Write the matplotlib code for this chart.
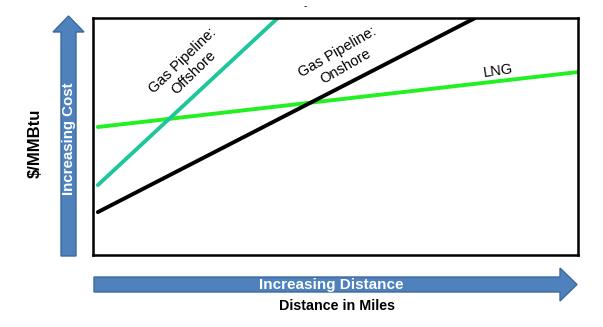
import matplotlib.pyplot as plt
from matplotlib.patches import Polygon

# cost curves, in chart units (distance 0-100, cost 0-100)
lng_x = [1, 100]
lng_y = [54, 77.2]
offshore_x = [1, 38.1]
offshore_y = [29.5, 100]
onshore_x = [1, 78.8]
onshore_y = [18.1, 100]

labels = ["Gas Pipeline:\nOffshore", "Gas Pipeline:\nOnshore", "LNG"]

ARROW_FACE = "#4F81BD"
ARROW_EDGE = "#3C6A9E"

plt.rcParams['font.family'] = ['Liberation Sans', 'DejaVu Sans']

fig = plt.figure(figsize=(6.03, 3.27), dpi=100)

# background axes in pixel coordinates for the arrows and outer labels
bg = fig.add_axes([0, 0, 1, 1])
bg.set_xlim(0, 603)
bg.set_ylim(327, 0)
bg.axis('off')

up_arrow = [(61, 256), (61, 32), (53, 32), (68.5, 16), (84, 32),
            (76, 32), (76, 256)]
right_arrow = [(94, 277), (560, 277), (560, 268), (577, 284.5),
               (560, 301), (560, 292), (94, 292)]
for pts in (up_arrow, right_arrow):
    bg.add_patch(Polygon(pts, closed=True, facecolor=ARROW_FACE,
                         edgecolor=ARROW_EDGE, linewidth=1))

bg.text(68.5, 139, "Increasing Cost", rotation=90, color="white",
        fontsize=10.8, fontweight="bold", ha="center", va="center")
bg.text(35, 143, "$/MMBtu", rotation=90, color="black",
        fontsize=12, fontweight="bold", ha="center", va="center")
bg.text(331, 285, "Increasing Distance", color="white",
        fontsize=11, fontweight="bold", ha="center", va="center")
bg.text(337, 306, "Distance in Miles", color="black",
        fontsize=10.3, fontweight="bold", ha="center", va="center")
bg.text(305, 6, "-", color="black", fontsize=7, ha="center", va="center")

# main plot box
ax = fig.add_axes([93 / 603, 1 - 255 / 327, 485 / 603, 237 / 327])
ax.set_xlim(0, 100)
ax.set_ylim(0, 100)
ax.set_xticks([])
ax.set_yticks([])
for sp in ax.spines.values():
    sp.set_linewidth(1.8)
    sp.set_color("black")

ax.plot(lng_x, lng_y, color="#22F022", linewidth=2.8, solid_capstyle="round")
ax.plot(offshore_x, offshore_y, color="#1DC79A", linewidth=2.8,
        solid_capstyle="round")
ax.plot(onshore_x, onshore_y, color="black", linewidth=2.8,
        solid_capstyle="round")

ax.text(19.6, 79.5, labels[0], rotation=44, fontsize=10.5, ha="center",
        va="center", rotation_mode="anchor", multialignment="center")
ax.text(51.3, 82.5, labels[1], rotation=30, fontsize=10.5, ha="center",
        va="center", rotation_mode="anchor", multialignment="center")
ax.text(83.5, 77.6, labels[2], rotation=8, fontsize=10.5, ha="center",
        va="center", rotation_mode="anchor")

fig.savefig("out.png", dpi=100)
